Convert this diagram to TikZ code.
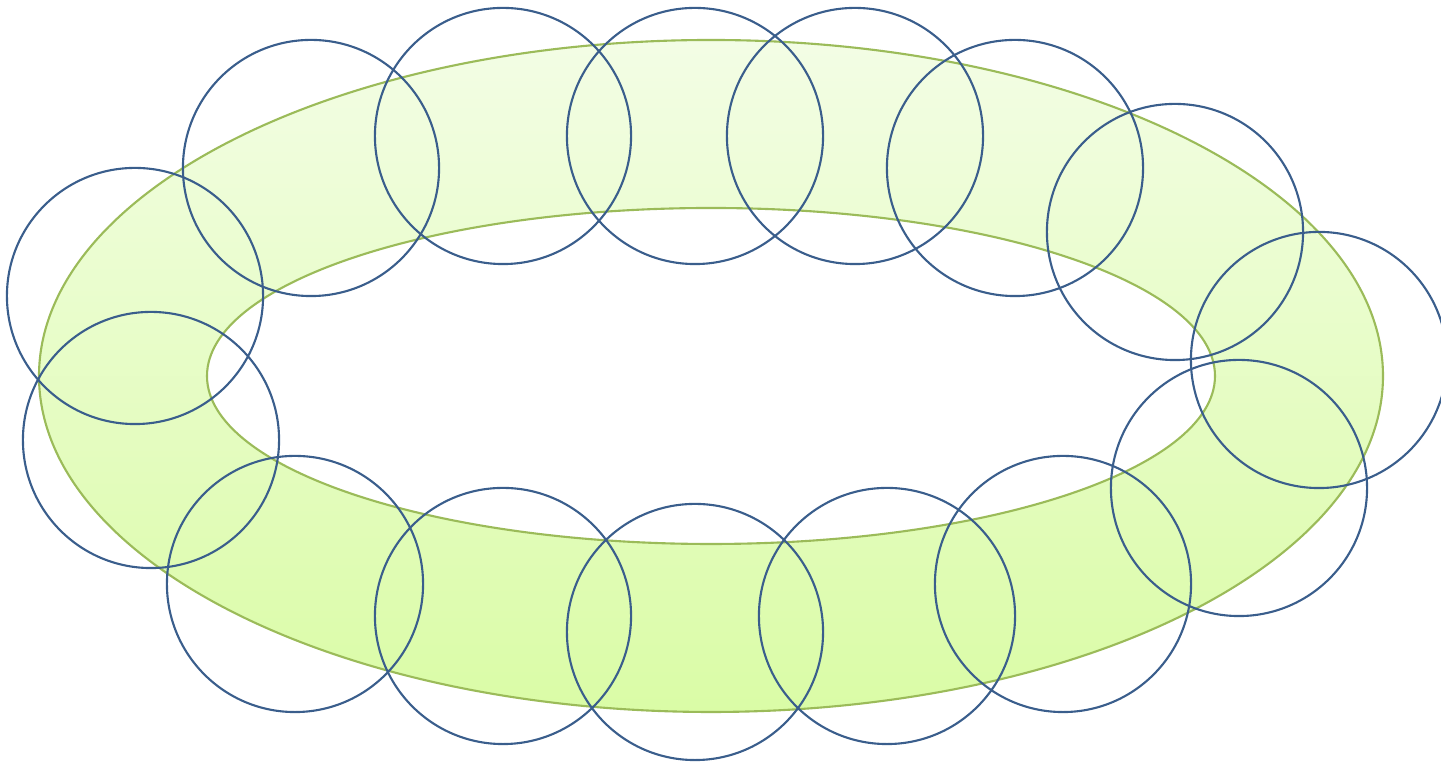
\documentclass[tikz,border=0pt]{standalone}
\definecolor{ringedge}{HTML}{9BBB59}
\definecolor{ringtop}{HTML}{F3FDE5}
\definecolor{ringbot}{HTML}{DAFCA6}
\definecolor{circ}{HTML}{3A5E8C}
\begin{document}
\begin{tikzpicture}[x=0.01cm,y=-0.01cm,
  ringc/.style={draw=circ,line width=0.6pt,circle,minimum size=2.56cm,inner sep=0pt}]
\useasboundingbox (0,0) rectangle (1441,762);
\clip (0,0) rectangle (1441,762);
\shade[top color=ringtop,bottom color=ringbot,even odd rule]
  (711,376) ellipse [x radius=672,y radius=336]
  (711,376) ellipse [x radius=504,y radius=168];
\draw[ringedge,line width=0.6pt] (711,376) ellipse [x radius=672,y radius=336];
\draw[ringedge,line width=0.6pt] (711,376) ellipse [x radius=504,y radius=168];
\foreach \n/\cx/\cy in {c1/135/296,c2/311/168,c3/503/136,c4/695/136,c5/855/136,
  c6/1015/168,c7/1175/232,c8/1319/360,c9/1239/488,c10/1063/584,c11/887/616,
  c12/695/632,c13/503/616,c14/295/584,c15/151/440}
  \node[ringc] (\n) at (\cx,\cy) {};
\end{tikzpicture}
\end{document}
